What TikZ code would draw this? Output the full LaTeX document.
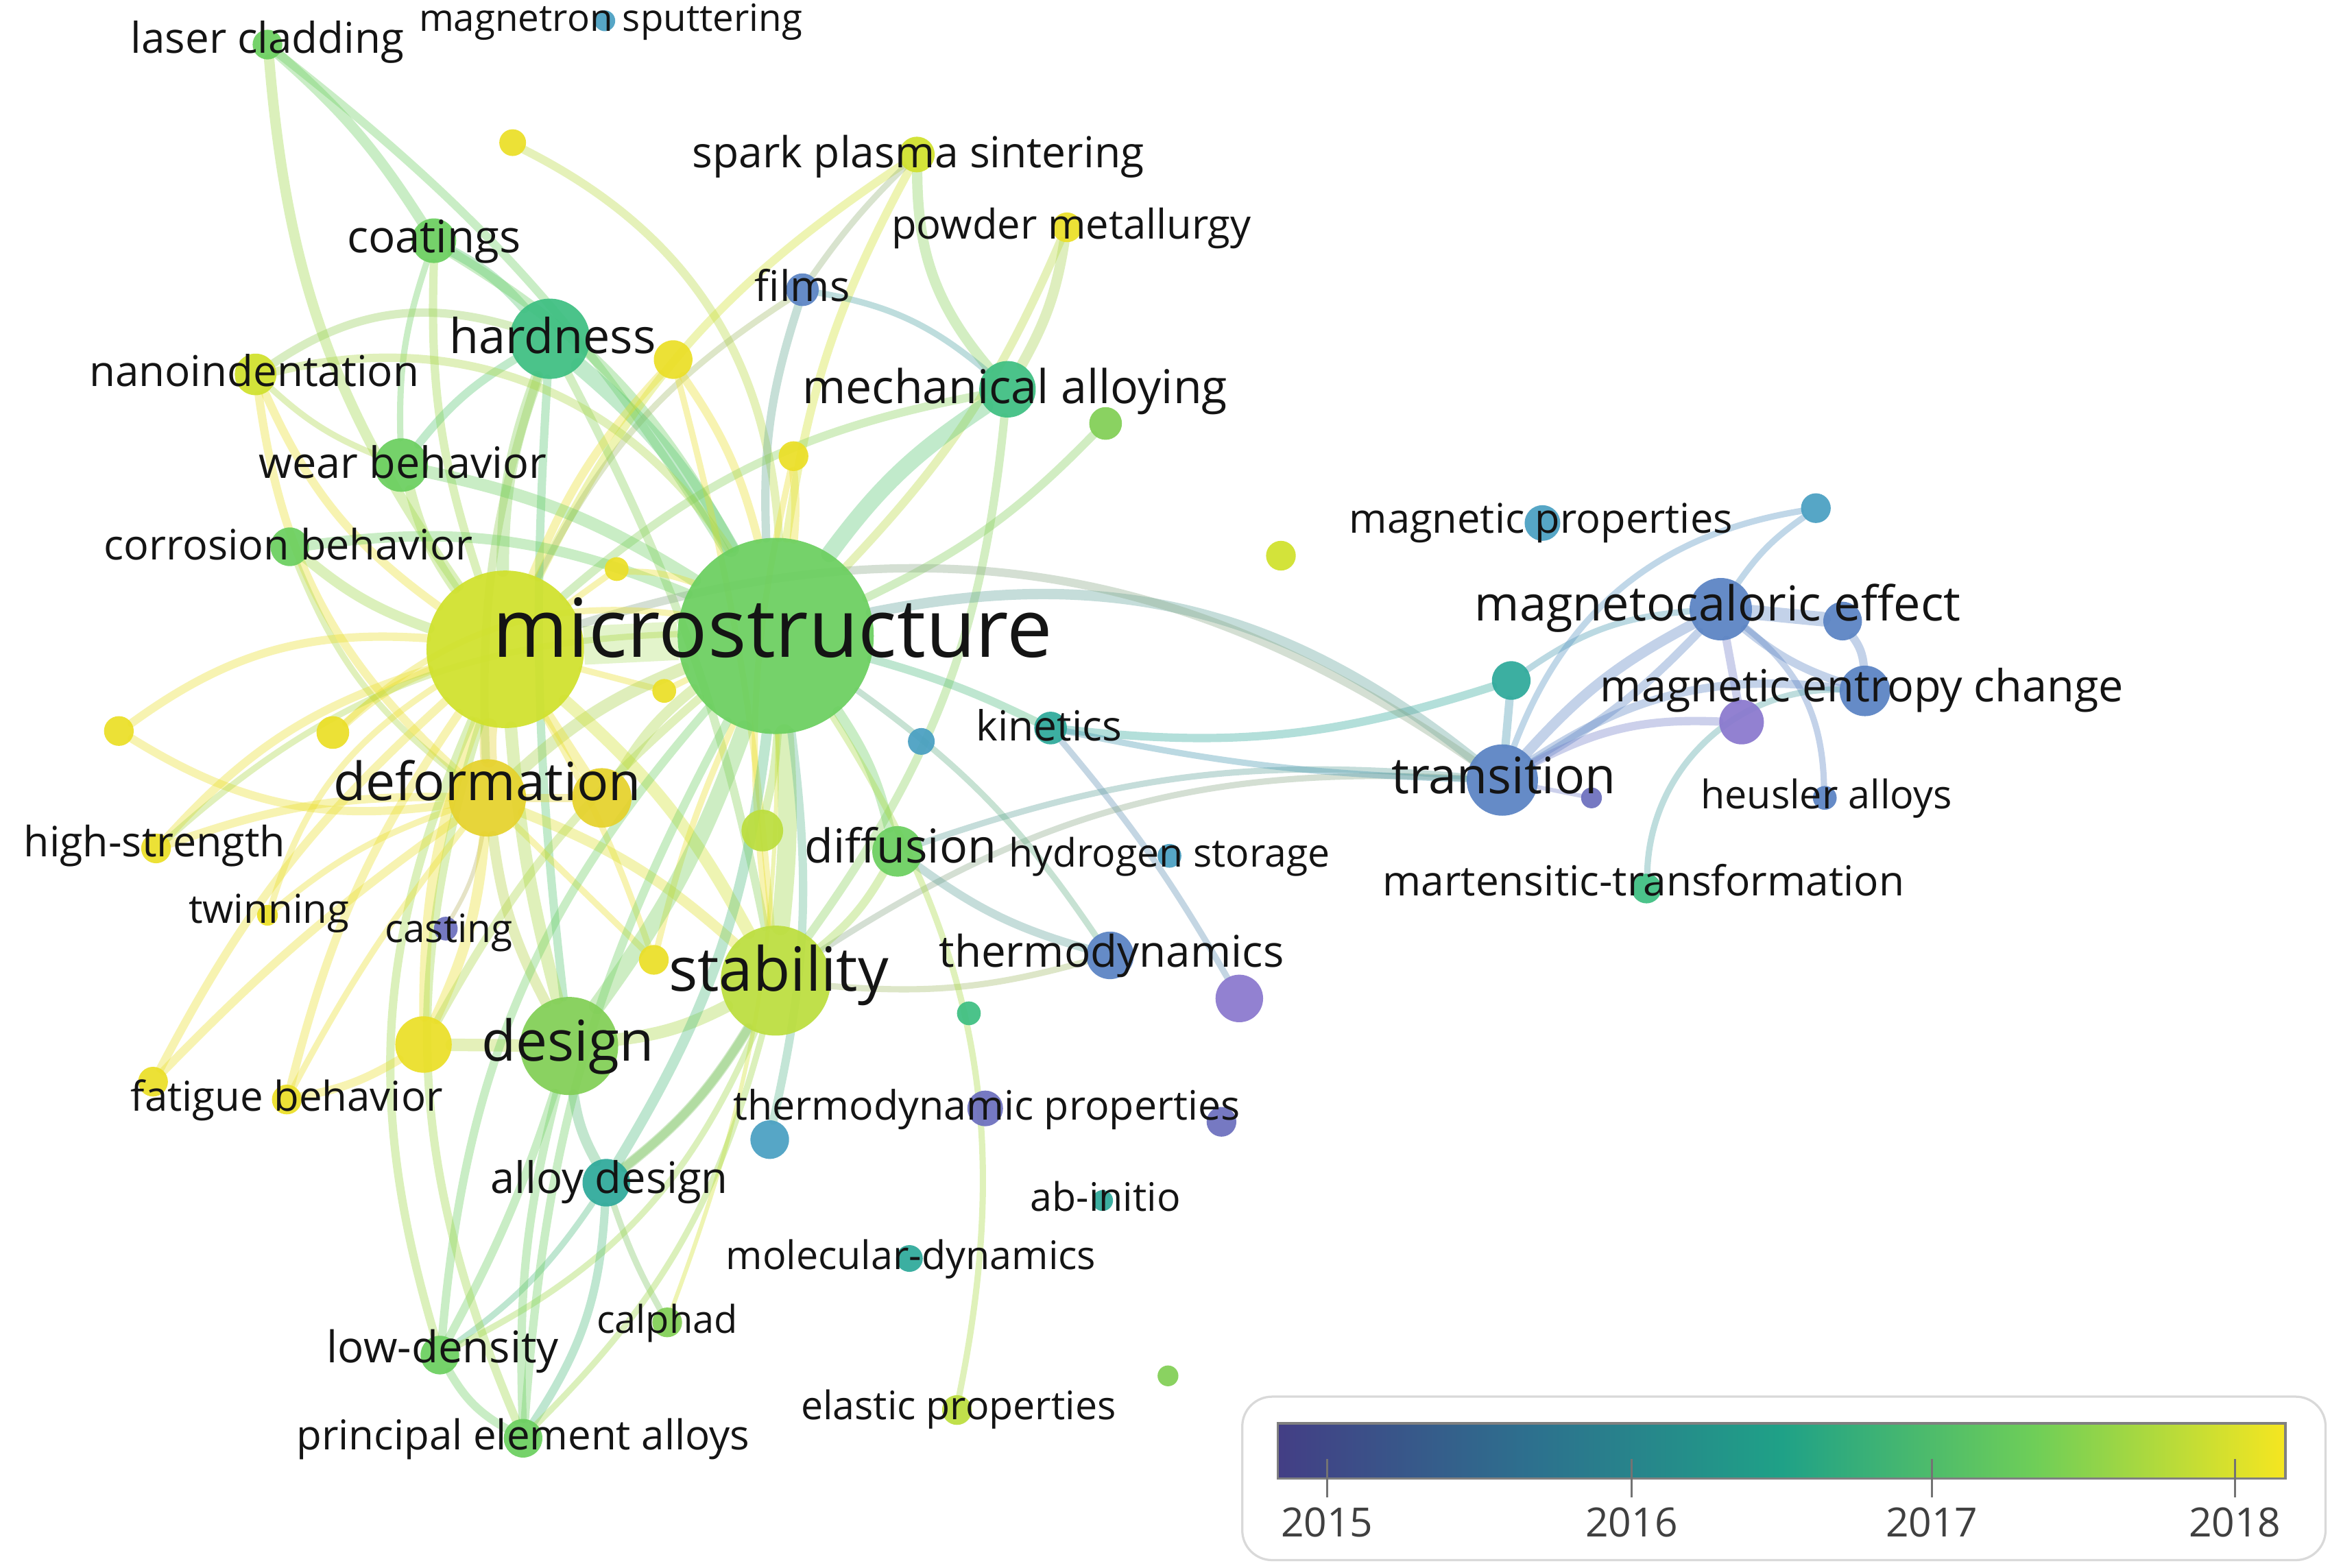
\documentclass[tikz,border=0pt]{standalone}
\usepackage{fontspec}
\setmainfont{Open Sans}
\usepackage{graphicx}
\usetikzlibrary{shapes.geometric}
\definecolor{cY}{HTML}{EBDF27}
\definecolor{cYd}{HTML}{E6D22C}
\definecolor{cYG}{HTML}{D0E12C}
\definecolor{cYG2}{HTML}{BCDE3E}
\definecolor{cG1}{HTML}{82CF56}
\definecolor{cG}{HTML}{6BCF5F}
\definecolor{cTG}{HTML}{3EBF82}
\definecolor{cT}{HTML}{2EA99A}
\definecolor{cTB}{HTML}{4AA0C2}
\definecolor{cB}{HTML}{5A83C3}
\definecolor{cBP}{HTML}{6C6FBE}
\definecolor{cP}{HTML}{8A78CE}
\definecolor{txt}{HTML}{141414}
\definecolor{v0}{HTML}{433E85}
\definecolor{v1}{HTML}{2D708E}
\definecolor{v2}{HTML}{1FA187}
\definecolor{v3}{HTML}{6ECE58}
\definecolor{v4}{HTML}{F6E620}
\pgfdeclarehorizontalshading{viridis}{100bp}{color(0bp)=(v0); color(25bp)=(v0); color(37.5bp)=(v1); color(50bp)=(v2); color(62.5bp)=(v3); color(75bp)=(v4); color(100bp)=(v4)}
\pgfdeclarelayer{bg}
\pgfdeclarelayer{edges}
\pgfsetlayers{bg,edges,main}
\newcommand\lab[2]{\resizebox{#1pt}{!}{\fontsize{20}{24}\selectfont\strut #2}}
\newcommand\lk[5]{\draw[line width={1.4*#4}, draw=#3, edgeop] (#1) to[#5] (#2);}
\begin{document}
\begin{tikzpicture}[x=1pt,y=-1pt,
  dot/.style={circle,inner sep=0pt,outer sep=0pt,minimum size={2*#1},fill opacity=0.93},
  lbl/.style={inner sep=0pt,outer sep=0pt,text=txt},
  edgeop/.style={opacity=0.36,line cap=round}]
\begin{pgfonlayer}{bg}
\fill[white] (0,0) rectangle (1568,1055);
\end{pgfonlayer}
\useasboundingbox (0,0) rectangle (1568,1055);
% ---------------- nodes (dots) ----------------
\node[dot=10,fill=cG] (lc) at (180,30) {};
\node[dot=7,fill=cTB] (ms) at (407,14) {};
\node[dot=9,fill=cY] (y1) at (345,96) {};
\node[dot=12,fill=cYG] (sps) at (617,104) {};
\node[dot=10,fill=cY] (pm) at (718,153) {};
\node[dot=15,fill=cG] (coat) at (292,162) {};
\node[dot=11,fill=cB] (films) at (540,195) {};
\node[dot=27,fill=cTG] (hard) at (370,228) {};
\node[dot=13,fill=cY] (y2) at (453,242) {};
\node[dot=14,fill=cYG] (nano) at (172,252) {};
\node[dot=19,fill=cTG] (mech) at (678,262) {};
\node[dot=11,fill=cG1] (g1) at (744,285) {};
\node[dot=10,fill=cY] (y3) at (534,307) {};
\node[dot=18,fill=cG] (wear) at (270,313) {};
\node[dot=13,fill=cG] (corr) at (195,368) {};
\node[dot=8,fill=cY] (y4) at (415,383) {};
\node[dot=53,fill=cYG] (bigY) at (340,437) {};
\node[dot=66,fill=cG] (micro) at (522,428) {};
\node[dot=8,fill=cY] (y5) at (447,465) {};
\node[dot=10,fill=cYG] (y6) at (862,374) {};
\node[dot=9,fill=cTB] (tb1) at (620,499) {};
\node[dot=11,fill=cT] (kin) at (707,490) {};
\node[dot=10,fill=cY] (y7) at (80,492) {};
\node[dot=11,fill=cY] (y8) at (224,493) {};
\node[dot=26,fill=cYd] (def) at (328,537) {};
\node[dot=20,fill=cYd] (y9) at (405,537) {};
\node[dot=14,fill=cYG2] (yg1) at (513,559) {};
\node[dot=10,fill=cY] (hs) at (105,571) {};
\node[dot=17,fill=cG] (diff) at (604,573) {};
\node[dot=8,fill=cTB] (hyd) at (787,576) {};
\node[dot=7,fill=cY] (twin) at (180,616) {};
\node[dot=8,fill=cBP] (cast) at (300,625) {};
\node[dot=10,fill=cY] (y10) at (440,646) {};
\node[dot=37,fill=cYG2] (stab) at (522,660) {};
\node[dot=16,fill=cB] (thermo) at (747,643) {};
\node[dot=16,fill=cP] (p1) at (834,672) {};
\node[dot=8,fill=cTG] (t1) at (652,682) {};
\node[dot=19,fill=cY] (y11) at (285,703) {};
\node[dot=33,fill=cG1] (design) at (383,704) {};
\node[dot=10,fill=cY] (fat) at (193,740) {};
\node[dot=10,fill=cY] (y12) at (103,728) {};
\node[dot=12,fill=cBP] (tp) at (663,746) {};
\node[dot=10,fill=cBP] (p2) at (822,755) {};
\node[dot=13,fill=cTB] (tb2) at (518,767) {};
\node[dot=16,fill=cT] (ad) at (408,796) {};
\node[dot=7,fill=cT] (abi) at (742,808) {};
\node[dot=9,fill=cT] (md) at (612,847) {};
\node[dot=10,fill=cG1] (calp) at (449,890) {};
\node[dot=13,fill=cG] (ld) at (296,912) {};
\node[dot=10,fill=cYG2] (ep) at (644,949) {};
\node[dot=7,fill=cG1] (g2) at (786,926) {};
\node[dot=13,fill=cG] (pea) at (352,968) {};
\node[dot=12,fill=cTB] (mp) at (1038,352) {};
\node[dot=10,fill=cTB] (b1) at (1222,342) {};
\node[dot=21,fill=cB] (mce) at (1158,410) {};
\node[dot=13,fill=cB] (b2) at (1240,418) {};
\node[dot=13,fill=cT] (t2) at (1017,458) {};
\node[dot=17,fill=cB] (mec) at (1255,465) {};
\node[dot=15,fill=cP] (p3) at (1172,486) {};
\node[dot=24,fill=cB] (tr) at (1011,525) {};
\node[dot=7,fill=cBP] (p4) at (1071,537) {};
\node[dot=8,fill=cB] (heu) at (1228,537) {};
\node[dot=10,fill=cTG] (mart) at (1108,598) {};
% ---------------- edges ----------------
\begin{pgfonlayer}{edges}
\draw[line width=26, draw=cYG!50!cG, opacity=0.28] (bigY) -- (micro);
\lk{lc}{bigY}{cG!50!cYG}{5}{bend right=15}
\lk{lc}{coat}{cG}{5}{bend left=8}
\lk{lc}{micro}{cG}{4}{bend left=10}
\lk{y1}{micro}{cY!60!cG}{4}{bend left=30}
\lk{coat}{hard}{cG!50!cTG}{5}{bend left=10}
\lk{coat}{micro}{cG}{5}{bend left=15}
\lk{coat}{bigY}{cG!50!cYG}{4}{bend right=10}
\lk{coat}{wear}{cG}{3}{bend right=10}
\lk{sps}{mech}{cYG!50!cTG}{5}{bend right=20}
\lk{sps}{micro}{cYG}{4}{bend right=10}
\lk{sps}{bigY}{cYG}{4}{bend right=15}
\lk{sps}{films}{cYG!50!cB}{3}{bend right=5}
\lk{pm}{mech}{cY!60!cTG}{5}{bend left=10}
\lk{pm}{micro}{cY!60!cG}{4}{bend left=10}
\lk{films}{micro}{cB!50!cG}{4}{bend right=10}
\lk{films}{bigY}{cB!40!cYG}{3}{bend right=15}
\lk{hard}{micro}{cTG!50!cG}{8}{bend left=10}
\lk{hard}{bigY}{cTG!50!cYG}{6}{bend right=10}
\lk{hard}{def}{cTG!50!cY}{4}{bend right=10}
\lk{hard}{stab}{cTG!50!cYG}{4}{bend left=8}
\lk{hard}{design}{cTG!50!cG}{4}{bend right=5}
\lk{hard}{wear}{cTG!50!cG}{4}{bend right=10}
\lk{y2}{micro}{cY}{4}{bend left=10}
\lk{y2}{bigY}{cY}{4}{bend right=10}
\lk{y2}{stab}{cY}{3}{bend left=5}
\lk{nano}{hard}{cY!50!cTG}{4}{bend left=25}
\lk{nano}{micro}{cY!50!cG}{4}{bend left=35}
\lk{nano}{bigY}{cY}{4}{bend right=15}
\lk{nano}{def}{cY}{4}{bend right=20}
\lk{nano}{wear}{cY!50!cG}{3}{bend right=10}
\lk{mech}{micro}{cTG!50!cG}{8}{bend right=10}
\lk{mech}{stab}{cTG!50!cYG}{4}{bend left=15}
\lk{mech}{bigY}{cTG!50!cYG}{4}{bend right=15}
\lk{mech}{films}{cTG!50!cB}{3}{bend right=15}
\lk{g1}{micro}{cG1}{4}{bend left=10}
\lk{y3}{micro}{cY}{4}{bend left=5}
\lk{y3}{stab}{cY}{3}{bend right=10}
\lk{wear}{micro}{cG}{6}{bend left=10}
\lk{wear}{bigY}{cG!50!cYG}{5}{bend right=10}
\lk{corr}{micro}{cG}{5}{bend left=15}
\lk{corr}{bigY}{cG!50!cYG}{5}{bend right=10}
\lk{corr}{def}{cG!50!cY}{3}{bend right=15}
\lk{y4}{micro}{cY}{3}{bend left=10}
\lk{y4}{bigY}{cY}{3}{}
\lk{y5}{bigY}{cY}{3}{}
\lk{y5}{micro}{cY}{3}{}
\lk{micro}{kin}{cG!50!cT}{4}{bend left=5}
\lk{kin}{t2}{cT}{4}{bend right=12}
\lk{kin}{p1}{cT!50!cP}{3}{bend left=5}
\lk{micro}{tr}{cG!40!cB}{5}{bend left=25}
\lk{bigY}{tr}{cYG!40!cB}{4}{bend left=26}
\lk{diff}{tr}{cG!40!cB}{3}{bend left=12}
\lk{stab}{tr}{cYG!40!cB}{3}{bend left=18}
\lk{kin}{tr}{cT!50!cB}{3}{bend right=5}
\lk{y7}{bigY}{cY}{4}{bend left=20}
\lk{y7}{def}{cY}{4}{bend right=20}
\lk{y8}{bigY}{cY}{4}{bend left=10}
\lk{y8}{micro}{cY}{3}{bend left=25}
\lk{def}{micro}{cYd!50!cG}{6}{bend left=10}
\lk{def}{bigY}{cYd}{8}{bend left=5}
\lk{def}{y9}{cYd}{4}{}
\lk{y9}{micro}{cY!50!cG}{5}{bend left=10}
\lk{y9}{bigY}{cY}{5}{}
\lk{yg1}{micro}{cYG!50!cG}{4}{bend right=5}
\lk{hs}{bigY}{cY}{4}{bend left=15}
\lk{hs}{def}{cY}{4}{bend left=10}
\lk{hs}{micro}{cY!50!cG}{3}{bend left=20}
\lk{twin}{def}{cY}{3}{bend left=10}
\lk{twin}{bigY}{cY}{3}{bend left=20}
\lk{cast}{def}{cBP!40!cY}{2}{bend right=10}
\lk{diff}{micro}{cG}{5}{bend right=10}
\lk{diff}{stab}{cG!50!cYG}{4}{bend left=10}
\lk{diff}{thermo}{cG!40!cB}{4}{bend right=10}
\lk{y10}{micro}{cY}{3}{bend left=5}
\lk{y10}{bigY}{cY}{3}{bend right=5}
\lk{y10}{def}{cY}{3}{}
\lk{stab}{micro}{cYG!50!cG}{9}{bend right=5}
\lk{stab}{design}{cYG!50!cG1}{6}{bend left=10}
\lk{stab}{def}{cYG!50!cY}{5}{bend right=10}
\lk{stab}{bigY}{cYG}{6}{bend right=10}
\lk{stab}{ad}{cYG!50!cT}{4}{bend left=10}
\lk{thermo}{micro}{cB!40!cG}{3}{bend right=10}
\lk{thermo}{stab}{cB!40!cYG}{3}{bend left=10}
\lk{ep}{micro}{cYG!60!cG}{3}{bend right=22}
\lk{tb2}{micro}{cTB!50!cG}{4}{bend right=10}
\lk{y11}{design}{cY!50!cG1}{6}{}
\lk{y11}{bigY}{cY}{5}{bend left=10}
\lk{y11}{def}{cY}{5}{bend right=10}
\lk{y11}{micro}{cY!50!cG}{4}{bend left=10}
\lk{design}{micro}{cG1!50!cG}{8}{bend right=8}
\lk{design}{bigY}{cG1!50!cYG}{6}{bend left=5}
\lk{design}{def}{cG1!50!cYd}{5}{bend left=10}
\lk{design}{ad}{cG1!50!cT}{5}{bend right=10}
\lk{ad}{micro}{cT!50!cG}{5}{bend right=12}
\lk{ad}{stab}{cT!50!cYG}{5}{bend right=10}
\lk{calp}{ad}{cYG!50!cT}{3}{bend left=5}
\lk{calp}{micro}{cYG}{2}{bend right=10}
\lk{ld}{micro}{cG}{4}{bend left=18}
\lk{ld}{bigY}{cG!50!cYG}{4}{bend left=20}
\lk{ld}{design}{cG}{4}{bend right=5}
\lk{ld}{ad}{cG!50!cT}{3}{bend right=10}
\lk{ld}{pea}{cG}{4}{bend right=15}
\lk{ld}{stab}{cG!50!cYG}{3}{bend right=20}
\lk{pea}{micro}{cG}{4}{bend left=12}
\lk{pea}{bigY}{cG!50!cYG}{4}{bend left=20}
\lk{pea}{design}{cG}{4}{bend left=8}
\lk{pea}{ad}{cG!50!cT}{4}{bend right=15}
\lk{pea}{stab}{cG!50!cYG}{3}{bend right=15}
\lk{fat}{y11}{cY}{4}{bend right=10}
\lk{fat}{bigY}{cY}{4}{bend left=10}
\lk{fat}{def}{cY}{3}{bend left=5}
\lk{y12}{bigY}{cY}{4}{bend left=10}
\lk{y12}{def}{cY}{4}{bend left=5}
% right cluster
\lk{tr}{mce}{cB}{5}{bend left=10}
\lk{tr}{mce}{cB}{4}{bend right=8}
\lk{tr}{mec}{cB}{4}{bend left=20}
\lk{tr}{t2}{cB!50!cT}{4}{}
\lk{t2}{mce}{cT!50!cB}{3}{bend left=15}
\lk{tr}{p3}{cB!50!cP}{4}{bend left=15}
\lk{tr}{b1}{cB!50!cTB}{3}{bend left=30}
\lk{b1}{mce}{cTB!50!cB}{3}{bend right=10}
\lk{mce}{b2}{cB}{7}{}
\lk{mce}{mec}{cB}{4}{bend right=10}
\lk{b2}{mec}{cB}{4}{bend left=15}
\lk{mce}{p3}{cB!50!cP}{4}{}
\lk{mce}{heu}{cB}{3}{bend left=25}
\lk{mart}{mec}{cTG!50!cB}{3}{bend left=45}
\lk{tr}{p4}{cB!50!cP}{2}{}
\end{pgfonlayer}
% ---------------- labels ----------------
\node[lbl] (Llc) at (180,29) {\lab{184}{laser cladding}};
\node[lbl] (Lms) at (411,15) {\lab{258}{magnetron sputtering}};
\node[lbl] (Lsps) at (618,106) {\lab{304}{spark plasma sintering}};
\node[lbl] (Lpm) at (721,154) {\lab{242}{powder metallurgy}};
\node[lbl] (Lcoat) at (292,163) {\lab{117}{coatings}};
\node[lbl] (Lfilms) at (540,196) {\lab{64}{films}};
\node[lbl] (Lhard) at (372,230) {\lab{139}{hardness}};
\node[lbl] (Lnano) at (171,253) {\lab{222}{nanoindentation}};
\node[lbl] (Lmech) at (683,264) {\lab{286}{mechanical alloying}};
\node[lbl] (Lwear) at (271,315) {\lab{194}{wear behavior}};
\node[lbl] (Lcorr) at (194,370) {\lab{248}{corrosion behavior}};
\node[lbl] (Lmicro) at (520,429) {\lab{377}{microstructure}};
\node[lbl] (Lkin) at (706,492) {\lab{98}{kinetics}};
\node[lbl] (Ldef) at (328,530) {\lab{207}{deformation}};
\node[lbl] (Lhs) at (104,570) {\lab{176}{high-strength}};
\node[lbl] (Ldiff) at (606,573) {\lab{129}{diffusion}};
\node[lbl] (Lhyd) at (787,577) {\lab{216}{hydrogen storage}};
\node[lbl] (Ltwin) at (181,615) {\lab{108}{twinning}};
\node[lbl] (Lcast) at (302,628) {\lab{86}{casting}};
\node[lbl] (Lstab) at (524,657) {\lab{148}{stability}};
\node[lbl] (Lthermo) at (748,644) {\lab{232}{thermodynamics}};
\node[lbl] (Ldesign) at (382,705) {\lab{116}{design}};
\node[lbl] (Lfat) at (193,741) {\lab{210}{fatigue behavior}};
\node[lbl] (Ltp) at (664,747) {\lab{341}{thermodynamic properties}};
\node[lbl] (Lad) at (410,796) {\lab{160}{alloy design}};
\node[lbl] (Labi) at (744,809) {\lab{101}{ab-initio}};
\node[lbl] (Lmd) at (613,848) {\lab{249}{molecular-dynamics}};
\node[lbl] (Lcalp) at (449,891) {\lab{95}{calphad}};
\node[lbl] (Lld) at (298,910) {\lab{156}{low-density}};
\node[lbl] (Lep) at (645,949) {\lab{212}{elastic properties}};
\node[lbl] (Lpea) at (352,969) {\lab{305}{principal element alloys}};
\node[lbl] (Lmp) at (1037,352) {\lab{258}{magnetic properties}};
\node[lbl] (Lmce) at (1156,410) {\lab{327}{magnetocaloric effect}};
\node[lbl] (Lmec) at (1253,465) {\lab{352}{magnetic entropy change}};
\node[lbl] (Ltr) at (1012,526) {\lab{151}{transition}};
\node[lbl] (Lheu) at (1229,538) {\lab{169}{heusler alloys}};
\node[lbl] (Lmart) at (1106,596) {\lab{351}{martensitic-transformation}};
% ---------------- legend ----------------
\node[draw=black!15,line width=1.5,rounded corners=20,minimum width=729,minimum height=110,inner sep=0pt] (legbox) at (1200.5,995) {};
\node[shading=viridis,draw=black!50,line width=1.5,minimum width=678,minimum height=37,inner sep=0pt] (bar) at (1199,976.5) {};
\foreach \x/\yr in {893/2015,1098/2016,1300/2017,1504/2018}{
  \draw[black!55,line width=1.2] (\x,982) -- (\x,1008);
  \node[lbl,text=black!75] (Y\yr) at (\x,1028) {\lab{62}{\yr}};
}
\end{tikzpicture}
\end{document}
